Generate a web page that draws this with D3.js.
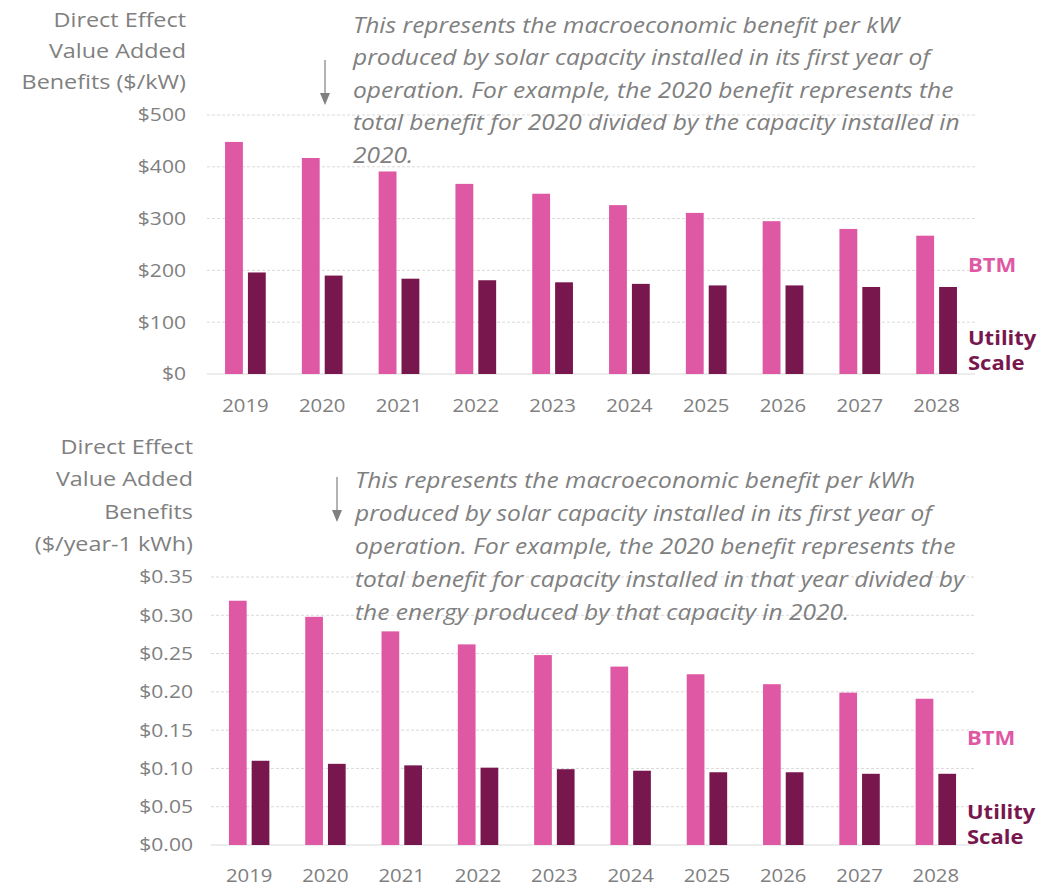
<!DOCTYPE html>
<html>
<head>
<meta charset="utf-8">
<script src="https://cdn.jsdelivr.net/npm/d3@7"></script>
<style>
  body { margin: 0; background: #fff; }
  svg { display: block; font-family: 'Open Sans', sans-serif; }
</style>
</head>
<body>
<div id="chart"></div>
<script>
const years = ['2019', '2020', '2021', '2022', '2023', '2024', '2025', '2026', '2027', '2028']
const seriesNames = ['BTM', 'Utility Scale']

// $/kW
const btmPerKW = [448, 417, 391, 367, 348, 326, 311, 295, 280, 267]
const utilityPerKW = [196, 190, 184, 181, 177, 174, 171, 171, 168, 168]
const ticksKW = [0, 100, 200, 300, 400, 500]

// $/year-1 kWh
const btmPerKWh = [0.319, 0.298, 0.279, 0.262, 0.248, 0.233, 0.223, 0.210, 0.199, 0.191]
const utilityPerKWh = [0.110, 0.106, 0.104, 0.101, 0.099, 0.097, 0.095, 0.095, 0.093, 0.093]
const ticksKWh = [0, 0.05, 0.10, 0.15, 0.20, 0.25, 0.30, 0.35]

const titleKW = ['Direct Effect', 'Value Added', 'Benefits ($/kW)']
const titleKWh = ['Direct Effect', 'Value Added', 'Benefits', '($/year-1 kWh)']
const noteKW = [
  'This represents the macroeconomic benefit per kW',
  'produced by solar capacity installed in its first year of',
  'operation. For example, the 2020 benefit represents the',
  'total benefit for 2020 divided by the capacity installed in',
  '2020.'
]
const noteKWh = [
  'This represents the macroeconomic benefit per kWh',
  'produced by solar capacity installed in its first year of',
  'operation. For example, the 2020 benefit represents the',
  'total benefit for capacity installed in that year divided by',
  'the energy produced by that capacity in 2020.'
]

const colors = { BTM: '#df58a4', 'Utility Scale': '#78174d' }
const grey = '#808080'
// the source picture is a little stretched sideways
const stretch = 'scale(1.14,1)'

const svg = d3.select('#chart').append('svg')
  .attr('width', 1048)
  .attr('height', 888)

const drawPanel = (opt) => {
  const g = svg.append('g')
  const rows = years.map((y, i) => ({ year: y, BTM: opt.btm[i], 'Utility Scale': opt.util[i] }))

  const x0 = d3.scaleBand()
    .domain(years)
    .range([opt.left, opt.right])
    .paddingInner(0.47)
    .paddingOuter(0.235)

  const x1 = d3.scaleBand()
    .domain(seriesNames)
    .range([0, x0.bandwidth()])
    .paddingInner(0.22)

  const y = d3.scaleLinear()
    .domain([0, d3.max(opt.ticks)])
    .range([opt.bottom, opt.top])

  // gridlines
  g.append('g')
    .selectAll('line')
    .data(opt.ticks)
    .enter()
    .append('line')
    .attr('x1', opt.left)
    .attr('x2', opt.right)
    .attr('y1', d => y(d))
    .attr('y2', d => y(d))
    .attr('stroke', '#d9d9d9')
    .attr('stroke-width', 1)
    .attr('stroke-dasharray', d => d === 0 ? null : '3,2')

  // y axis labels
  g.append('g')
    .attr('transform', `translate(${opt.labelRight},0)`)
    .call(d3.axisLeft(y).tickValues(opt.ticks).tickSize(0).tickPadding(0).tickFormat(opt.fmt))
    .call(a => a.select('.domain').remove())
    .selectAll('text')
    .attr('font-family', "'Open Sans', sans-serif")
    .attr('font-size', 18.5)
    .attr('fill', grey)
    .attr('transform', stretch)

  // x axis labels
  g.append('g')
    .attr('transform', `translate(0,${opt.bottom})`)
    .call(d3.axisBottom(x0).tickSize(0).tickPadding(opt.xPad))
    .call(a => a.select('.domain').remove())
    .selectAll('text')
    .attr('font-family', "'Open Sans', sans-serif")
    .attr('font-size', 18.5)
    .attr('fill', grey)
    .attr('transform', 'scale(1.1,1)')

  // bars
  const groups = g.selectAll('.year')
    .data(rows)
    .enter()
    .append('g')
    .attr('transform', d => `translate(${x0(d.year)},0)`)

  groups.selectAll('rect')
    .data(d => seriesNames.map(k => ({ key: k, value: d[k] })))
    .enter()
    .append('rect')
    .attr('x', d => x1(d.key))
    .attr('y', d => y(d.value))
    .attr('width', x1.bandwidth())
    .attr('height', d => y(0) - y(d.value))
    .attr('fill', d => colors[d.key])

  // axis title
  g.append('g')
    .attr('transform', `translate(${opt.labelRight},0) ${stretch}`)
    .append('text')
    .attr('text-anchor', 'end')
    .attr('font-size', 20.5)
    .attr('fill', grey)
    .selectAll('tspan')
    .data(opt.title)
    .enter()
    .append('tspan')
    .attr('x', 0)
    .attr('y', (d, i) => opt.titleY + i * opt.titleStep)
    .text(d => d)

  // annotation
  g.append('g')
    .attr('transform', `translate(${opt.noteX},0) ${stretch}`)
    .append('text')
    .attr('font-size', 21.5)
    .attr('font-style', 'italic')
    .attr('fill', grey)
    .selectAll('tspan')
    .data(opt.note)
    .enter()
    .append('tspan')
    .attr('x', 0)
    .attr('y', (d, i) => opt.noteY + i * opt.noteStep)
    .text(d => d)

  // arrow
  g.append('line')
    .attr('x1', opt.arrowX)
    .attr('x2', opt.arrowX)
    .attr('y1', opt.arrowY)
    .attr('y2', opt.arrowY + 34)
    .attr('stroke', grey)
    .attr('stroke-width', 1.2)
  g.append('path')
    .attr('d', `M${opt.arrowX - 5},${opt.arrowY + 33}L${opt.arrowX + 5},${opt.arrowY + 33}L${opt.arrowX},${opt.arrowY + 45}Z`)
    .attr('fill', grey)

  // series labels
  const legend = g.append('g')
    .attr('transform', `translate(${opt.right - 7},0) scale(1.1,1)`)
  legend.append('text')
    .attr('x', 0)
    .attr('y', y(opt.btmLabelAt))
    .attr('font-size', 20)
    .attr('font-weight', 'bold')
    .attr('fill', colors.BTM)
    .text('BTM')
  legend.append('text')
    .attr('font-size', 20)
    .attr('font-weight', 'bold')
    .attr('fill', colors['Utility Scale'])
    .selectAll('tspan')
    .data(['Utility', 'Scale'])
    .enter()
    .append('tspan')
    .attr('x', 0)
    .attr('y', (d, i) => opt.utilY + i * 25)
    .text(d => d)
}

drawPanel({
  btm: btmPerKW,
  util: utilityPerKW,
  ticks: ticksKW,
  fmt: d => `$${d}`,
  left: 207,
  right: 975,
  top: 115,
  bottom: 374,
  labelRight: 186,
  xPad: 25,
  title: titleKW,
  titleY: 27,
  titleStep: 31,
  note: noteKW,
  noteX: 353,
  noteY: 33,
  noteStep: 32.5,
  arrowX: 325,
  arrowY: 60,
  btmLabelAt: 196,
  utilY: 345
})

drawPanel({
  btm: btmPerKWh,
  util: utilityPerKWh,
  ticks: ticksKWh,
  fmt: d => `$${d3.format('.2f')(d)}`,
  left: 211,
  right: 974,
  top: 577,
  bottom: 845,
  labelRight: 193,
  xPad: 24,
  title: titleKWh,
  titleY: 454,
  titleStep: 32.5,
  note: noteKWh,
  noteX: 355,
  noteY: 488,
  noteStep: 33,
  arrowX: 337,
  arrowY: 477,
  btmLabelAt: 0.13,
  utilY: 819
})
</script>
</body>
</html>
